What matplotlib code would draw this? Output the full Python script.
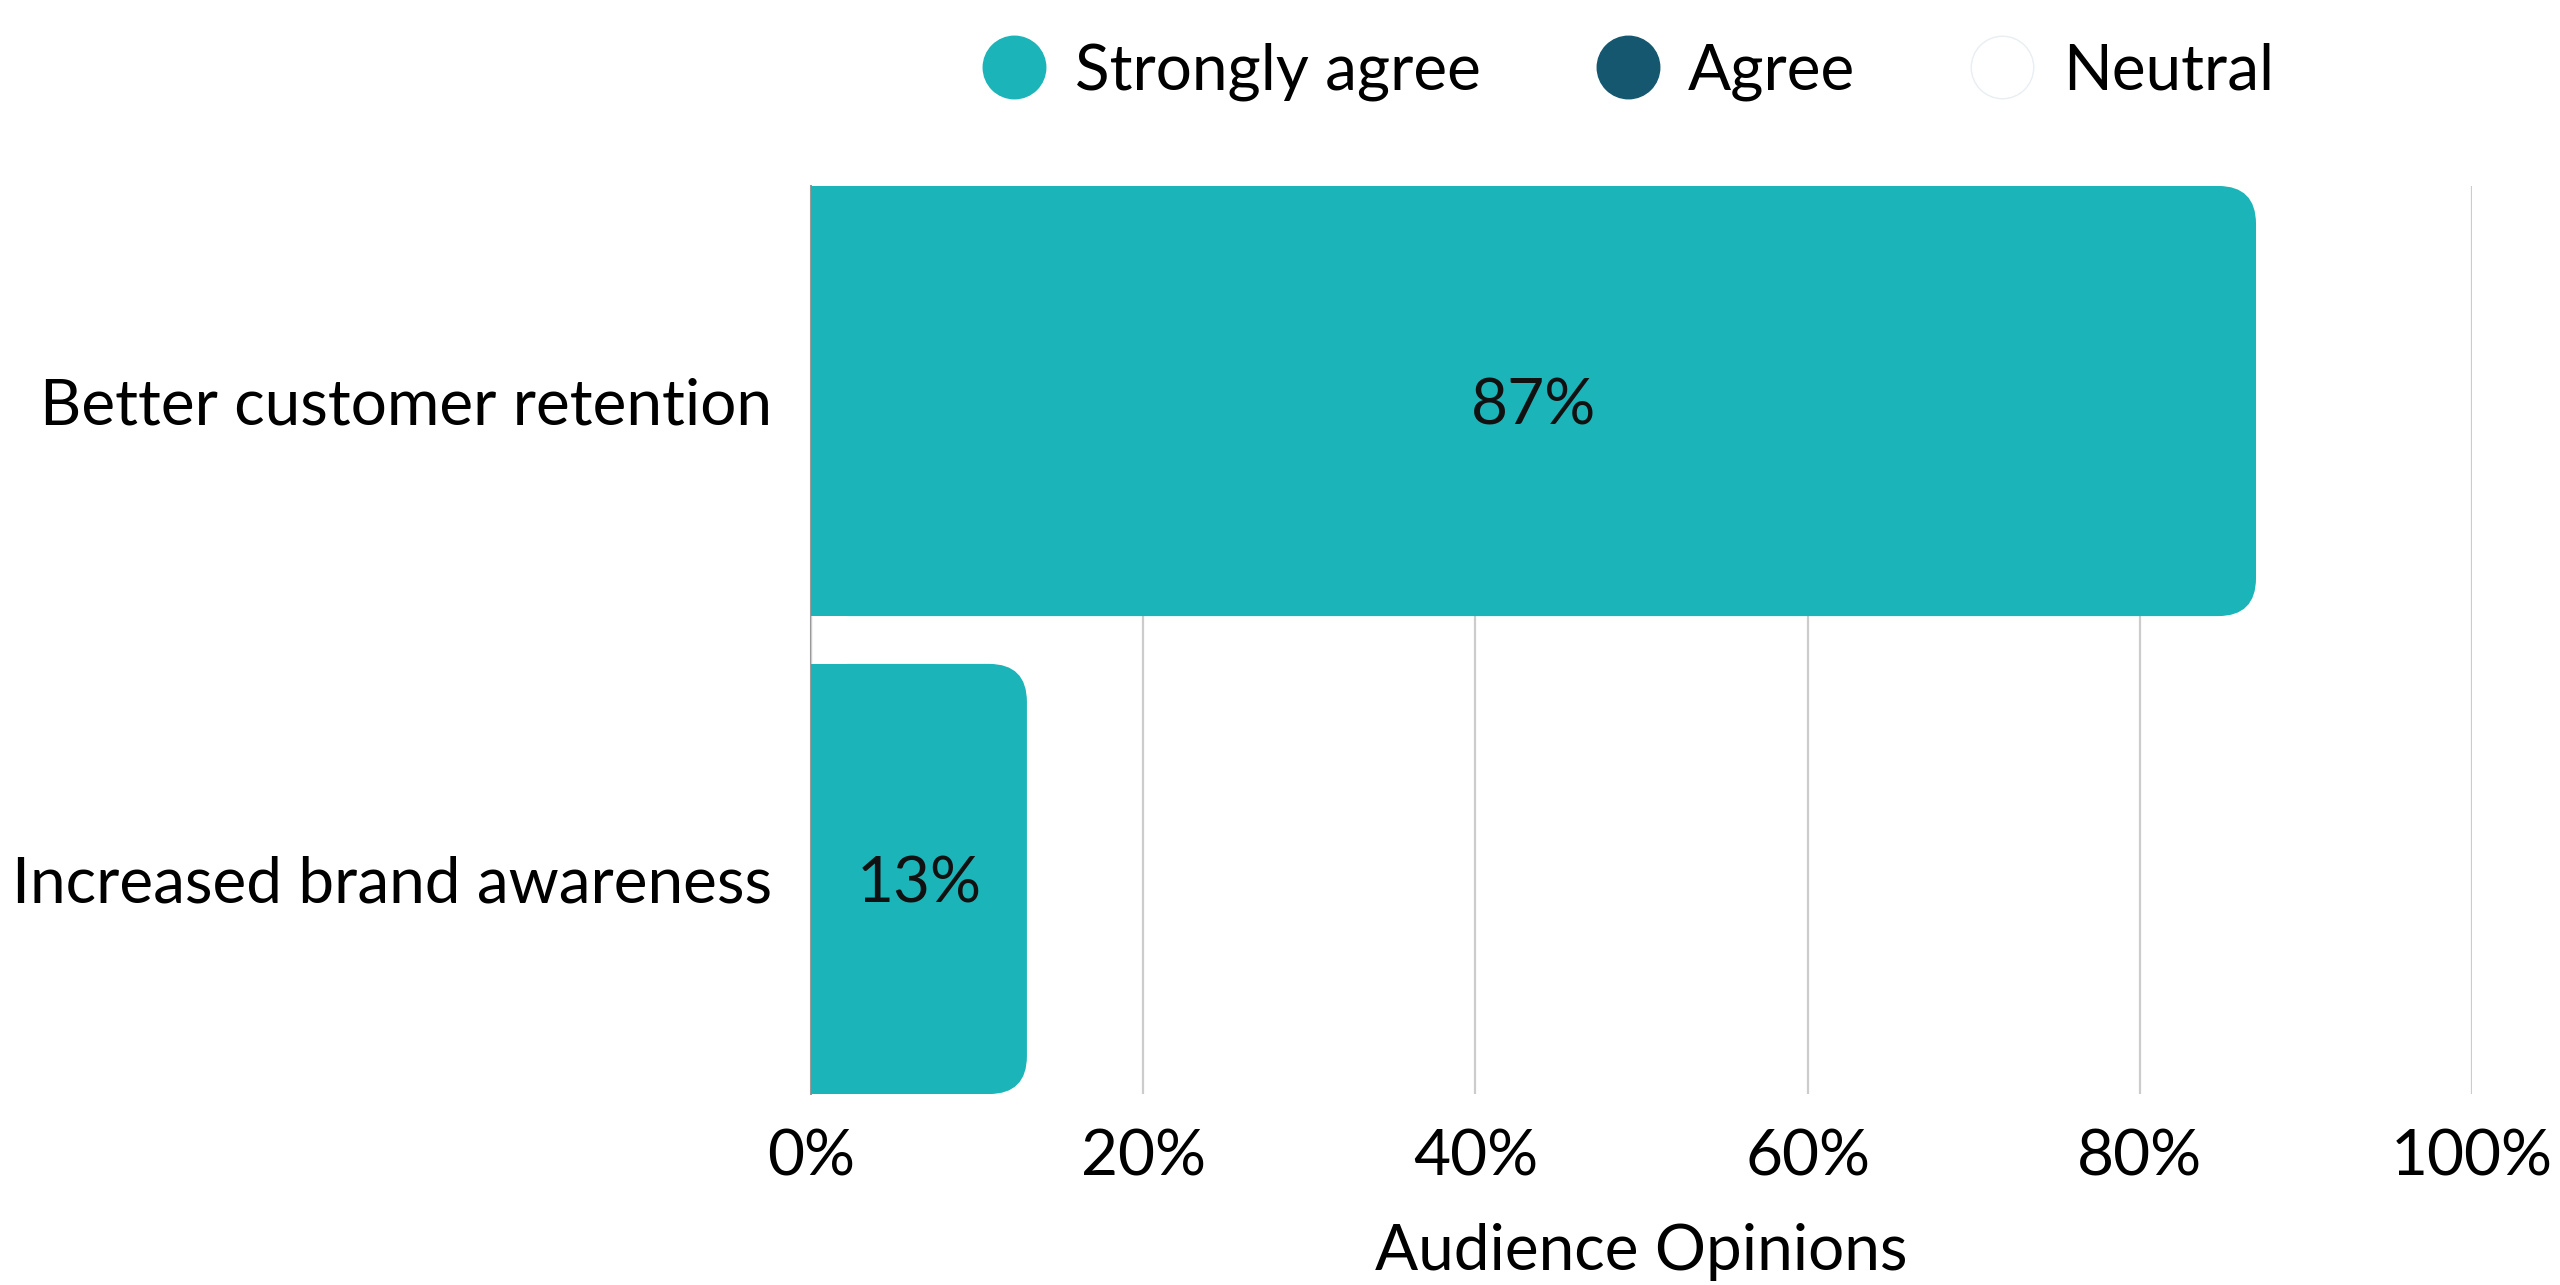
import matplotlib.pyplot as plt
from matplotlib.patches import FancyBboxPatch, Rectangle
from matplotlib.lines import Line2D

# data
categories = ['Better customer retention', 'Increased brand awareness']
strongly_agree = [87, 13]
legend_labels = ['Strongly agree', 'Agree', 'Neutral']
legend_colors = ['#1bb4b8', '#14576f', '#ffffff']
x_ticks = [0, 20, 40, 60, 80, 100]
x_tick_labels = ['0%', '20%', '40%', '60%', '80%', '100%']

plt.rcParams['font.family'] = ['Lato', 'DejaVu Sans']
FS = 46

fig = plt.figure(figsize=(25.6, 12.85), dpi=100)
ax = fig.add_axes([0.3168, 0.1486, 0.6488, 0.7067])

bar_h = 0.9
ypos = list(range(len(categories)))
ax.set_xlim(0, 100)
ax.set_ylim(len(categories) - 1 + bar_h / 2, -bar_h / 2)

# rounded right end of bars, square left end
fig.canvas.draw()
bbox = ax.get_window_extent()
px_x = bbox.width / 100.0
px_y = bbox.height / (len(categories) - 1 + bar_h)
r_px = 38
rx = r_px / px_x
aspect = (r_px / px_y) / rx

for y, v in zip(ypos, strongly_agree):
    y0 = y - bar_h / 2
    ax.add_patch(FancyBboxPatch((0, y0), v, bar_h,
                                boxstyle=f'round,pad=0,rounding_size={rx}',
                                mutation_aspect=aspect,
                                facecolor=legend_colors[0], edgecolor='none', zorder=3))
    ax.add_patch(Rectangle((0, y0), v - rx * 1.2, bar_h,
                           facecolor=legend_colors[0], edgecolor='none', zorder=3))
    ax.text(v / 2, y, f'{v}%', ha='center', va='center_baseline', fontsize=FS,
            color='#111111', zorder=4)

ax.set_yticks(ypos)
ax.set_yticklabels(categories, fontsize=FS)
ax.set_xticks(x_ticks)
ax.set_xticklabels(x_tick_labels, fontsize=FS)
ax.tick_params(axis='y', length=0, pad=28)
ax.tick_params(axis='x', length=0, pad=25)
ax.grid(axis='x', color='#cccccc', linewidth=1.6, zorder=0)
for s in ['top', 'right', 'bottom']:
    ax.spines[s].set_visible(False)
ax.spines['left'].set_color('#999999')
ax.spines['left'].set_linewidth(1.5)
ax.spines['left'].set_zorder(1)
ax.set_xlabel('Audience Opinions', fontsize=FS, labelpad=26)

handles = [Line2D([], [], marker='o', linestyle='none', markersize=45,
                  markerfacecolor=c, markeredgecolor='#e8eef2' if c == '#ffffff' else c,
                  markeredgewidth=1)
           for c in legend_colors]
fig.legend(handles, legend_labels, loc='center', bbox_to_anchor=(0.636, 0.944),
           ncol=3, frameon=False, fontsize=FS, handlelength=1.0,
           handletextpad=0.45, columnspacing=1.8)

fig.savefig('out.png', dpi=100, facecolor='white')
